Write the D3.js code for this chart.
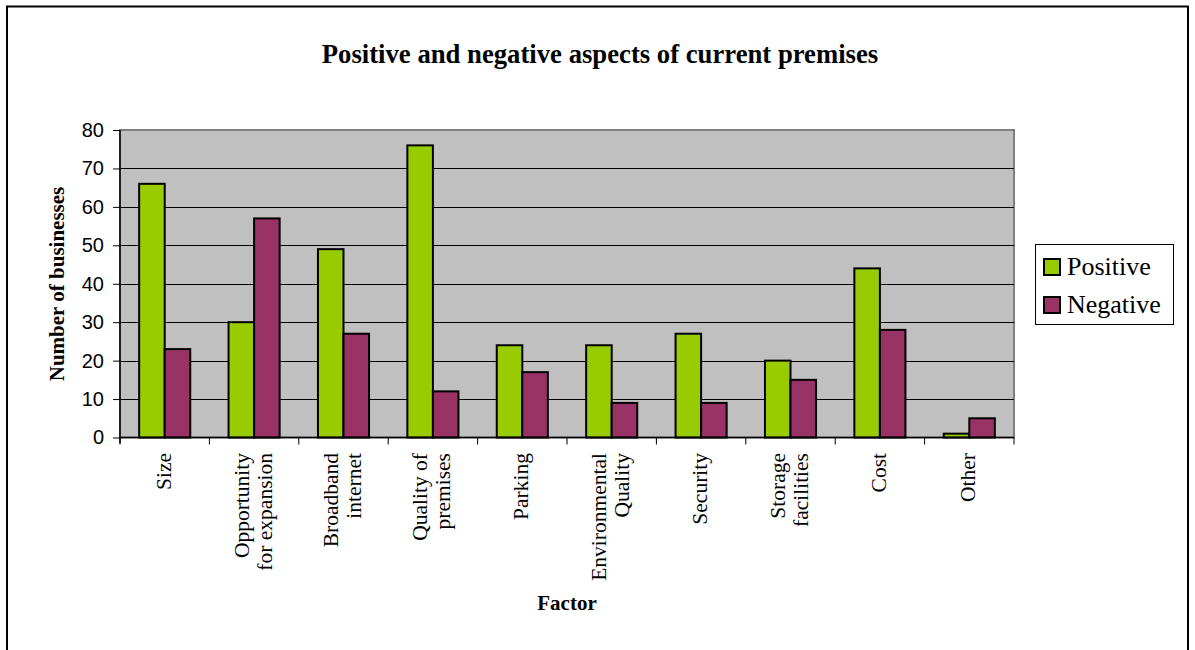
<!DOCTYPE html>
<html>
<head>
<meta charset="utf-8">
<script src="https://cdn.jsdelivr.net/npm/d3@7"></script>
<style>
  html, body { margin: 0; padding: 0; background: #fff; }
  svg { display: block; }
</style>
</head>
<body>
<svg id="chart" width="1195" height="650"></svg>
<script>
const categories = [
  ["Size"],
  ["Opportunity", "for expansion"],
  ["Broadband", "internet"],
  ["Quality of", "premises"],
  ["Parking"],
  ["Environmental", "Quality"],
  ["Security"],
  ["Storage", "facilities"],
  ["Cost"],
  ["Other"]
];
const positive = [66, 30, 49, 76, 24, 24, 27, 20, 44, 1];
const negative = [23, 57, 27, 12, 17, 9, 9, 15, 28, 5];
const seriesNames = ["Positive", "Negative"];
const seriesColors = ["#99CC00", "#993366"];
const yTicks = [0, 10, 20, 30, 40, 50, 60, 70, 80];

const svg = d3.select("#chart");
const serif = "'Liberation Serif', 'Times New Roman', serif";
const sans = "'Liberation Sans', Arial, sans-serif";

// outer frame
svg.append("rect").attr("x", 7).attr("y", 6.5).attr("width", 1181).attr("height", 660)
  .attr("fill", "none").attr("stroke", "#000").attr("stroke-width", 2);

const plot = { left: 120, top: 130, right: 1014, bottom: 437.5 };

const x = d3.scaleBand().domain(d3.range(categories.length))
  .range([plot.left, plot.right]).paddingInner(0).paddingOuter(0);
const y = d3.scaleLinear().domain([0, 80]).range([plot.bottom, plot.top]);

// plot background
svg.append("rect").attr("x", plot.left).attr("y", plot.top)
  .attr("width", plot.right - plot.left).attr("height", plot.bottom - plot.top)
  .attr("fill", "#C0C0C0").attr("stroke", "#808080").attr("stroke-width", 2);

// gridlines
svg.append("g").selectAll("line").data(yTicks.filter(d => d > 0 && d < 80)).join("line")
  .attr("x1", plot.left).attr("x2", plot.right)
  .attr("y1", d => Math.round(y(d)) + 0.5).attr("y2", d => Math.round(y(d)) + 0.5)
  .attr("stroke", "#000").attr("stroke-width", 1);

// bars
const bw = x.bandwidth() / 3.5;
const groups = svg.append("g").selectAll("g").data(categories.map((c, i) => i)).join("g");
[positive, negative].forEach((vals, s) => {
  groups.append("rect")
    .attr("x", i => x(i) + x.bandwidth() / 2 - bw + s * bw)
    .attr("y", i => y(vals[i]))
    .attr("width", bw)
    .attr("height", i => y(0) - y(vals[i]))
    .attr("fill", seriesColors[s])
    .attr("stroke", "#000").attr("stroke-width", 2);
});

// y axis
const yAxis = d3.axisLeft(y).tickValues(yTicks).tickSize(7).tickPadding(9);
const yg = svg.append("g").attr("transform", `translate(${plot.left},0)`).call(yAxis);
yg.select(".domain").attr("stroke", "#000").attr("stroke-width", 1.5).attr("d", `M0,${plot.top}V${plot.bottom + 6}`);
yg.selectAll(".tick line").attr("stroke", "#000");
yg.selectAll(".tick text").attr("font-family", sans).attr("font-size", 20).attr("fill", "#000");

// x axis
const xg = svg.append("g").attr("transform", `translate(0,${plot.bottom})`);
xg.append("line").attr("x1", plot.left).attr("x2", plot.right).attr("y1", 0).attr("y2", 0)
  .attr("stroke", "#000").attr("stroke-width", 1.5);
xg.selectAll("line.tk").data(d3.range(categories.length + 1)).join("line").attr("class", "tk")
  .attr("x1", i => plot.left + i * x.bandwidth()).attr("x2", i => plot.left + i * x.bandwidth())
  .attr("y1", 0).attr("y2", 7).attr("stroke", "#000");

const lh = 23;
const labels = svg.append("g").selectAll("text").data(categories.map((c, i) => i)).join("text")
  .attr("transform", i => `translate(${x(i) + x.bandwidth() / 2},453) rotate(-90)`)
  .attr("text-anchor", "end")
  .attr("font-family", serif).attr("font-size", 21.5).attr("fill", "#000");
labels.each(function(i) {
  const lines = categories[i];
  d3.select(this).selectAll("tspan").data(lines).join("tspan")
    .attr("x", 0)
    .attr("y", (d, k) => (k - (lines.length - 1) / 2) * lh + 6)
    .text(d => d);
});

// title
svg.append("text").attr("x", 600).attr("y", 63).attr("text-anchor", "middle")
  .attr("font-family", serif).attr("font-weight", "bold").attr("font-size", 26.7)
  .text("Positive and negative aspects of current premises");

// axis titles
svg.append("text").attr("transform", "translate(64,284) rotate(-90)").attr("text-anchor", "middle")
  .attr("font-family", serif).attr("font-weight", "bold").attr("font-size", 21)
  .text("Number of businesses");
svg.append("text").attr("x", 567).attr("y", 610).attr("text-anchor", "middle")
  .attr("font-family", serif).attr("font-weight", "bold").attr("font-size", 21)
  .text("Factor");

// legend
const lg = svg.append("g");
lg.append("rect").attr("x", 1035.5).attr("y", 244.5).attr("width", 138).attr("height", 80)
  .attr("fill", "#fff").attr("stroke", "#000").attr("stroke-width", 1);
seriesNames.forEach((n, s) => {
  lg.append("rect").attr("x", 1044).attr("y", 259 + s * 38).attr("width", 16).attr("height", 16)
    .attr("fill", seriesColors[s]).attr("stroke", "#000").attr("stroke-width", 2);
  lg.append("text").attr("x", 1067).attr("y", 275 + s * 38)
    .attr("font-family", serif).attr("font-size", 26).text(n);
});
</script>
</body>
</html>
